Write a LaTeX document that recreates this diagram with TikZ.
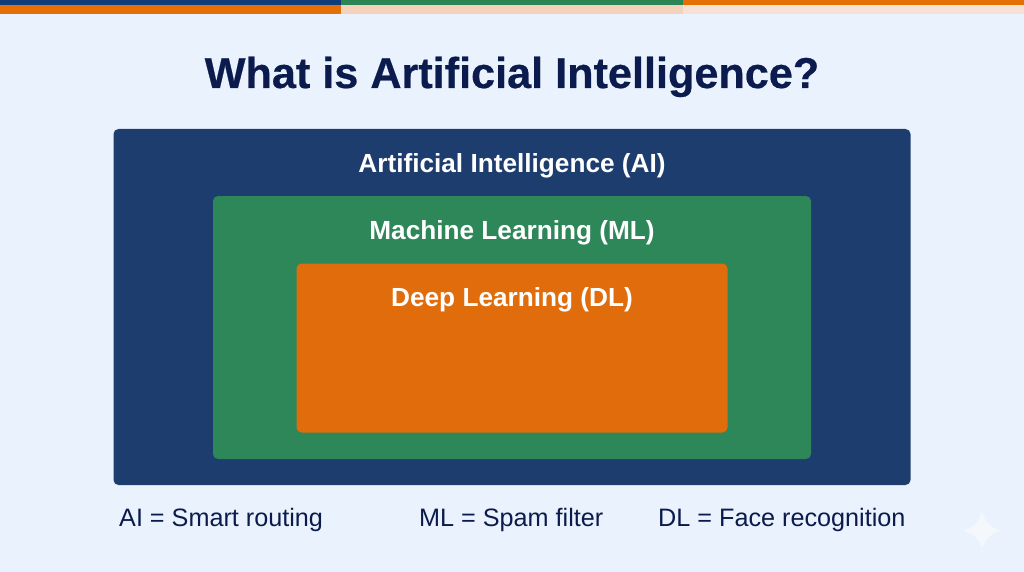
\documentclass[tikz,border=0pt]{standalone}
\usepackage{fontspec}
\setmainfont{Liberation Sans}
\newfontfamily\titlefont[FakeBold=0.5]{Liberation Sans Bold}
\definecolor{bgc}{HTML}{EAF3FD}
\definecolor{navy}{HTML}{1C3D6E}
\definecolor{grn}{HTML}{2E8759}
\definecolor{org}{HTML}{E06C0C}
\definecolor{ink}{HTML}{0B1B4D}
\definecolor{barnavy}{HTML}{123C78}
\definecolor{bargrn}{HTML}{2B8555}
\definecolor{barorg}{HTML}{E56E05}
\definecolor{pale}{HTML}{F3D1BB}
\definecolor{paler}{HTML}{F6E2D4}
\definecolor{star}{HTML}{F4F8FD}
\tikzset{
  x=1pt,y=-1pt,
  panel/.style={rounded corners=5pt,draw=none},
  paneltitle/.style={text=white,font=\fontsize{26.2}{28}\selectfont\bfseries,inner sep=0pt,anchor=base},
  legend/.style={text=ink,font=\fontsize{25.2}{28}\selectfont,inner sep=0pt,anchor=base west},
}
\begin{document}
\begin{tikzpicture}
\useasboundingbox (0,0) rectangle (1024,572);
\fill[bgc] (0,0) rectangle (1024,572);
\fill[barnavy] (0,0) rectangle (341,5);
\fill[bargrn] (341,0) rectangle (683,5);
\fill[barorg] (683,0) rectangle (1024,5);
\fill[barorg] (0,5) rectangle (341,14);
\fill[pale] (341,5) rectangle (683,14);
\fill[paler] (683,5) rectangle (1024,14);
\node[inner sep=0pt,anchor=base,text=ink,font=\fontsize{43.2}{54}\titlefont] (title) at (512,88) {What is Artificial Intelligence?};
\fill[navy,panel] (113.5,129) rectangle (910.5,485);
\fill[grn,panel] (213,196) rectangle (811,459);
\fill[org,panel] (296.5,263.5) rectangle (727.5,432.5);
\node[paneltitle] (ai) at (512,172) {Artificial Intelligence (AI)};
\node[paneltitle] (ml) at (512,239) {Machine Learning (ML)};
\node[paneltitle] (dl) at (512,306) {Deep Learning (DL)};
\node[legend] (la) at (119,526.5) {AI = Smart routing};
\node[legend] (lb) at (419,526.5) {ML = Spam filter};
\node[legend] (lc) at (658,526.5) {DL = Face recognition};
\fill[star] (982,512.5) .. controls (987,524) and (989,526) .. (1000,530.5) .. controls (989,535) and (987,537) .. (982,548) .. controls (977,537) and (975,535) .. (964,530.5) .. controls (975,526) and (977,524) .. (982,512.5) -- cycle;
\end{tikzpicture}
\end{document}
